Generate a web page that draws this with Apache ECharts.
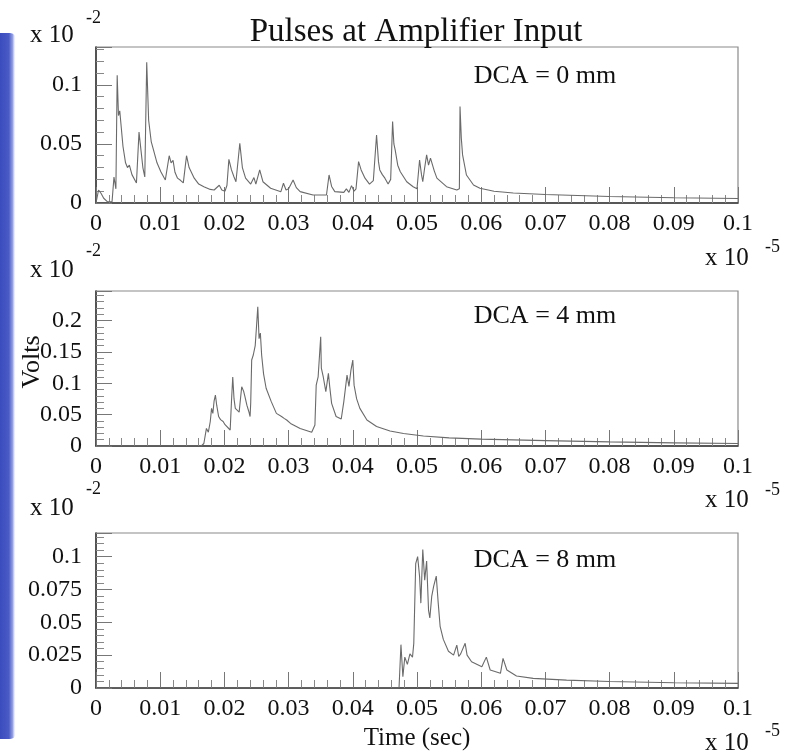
<!DOCTYPE html>
<html>
<head>
<meta charset="utf-8">
<script src="https://cdn.jsdelivr.net/npm/echarts@6/dist/echarts.min.js"></script>
<style>
html,body{margin:0;padding:0;background:#fff;}
#c{width:794px;height:756px;}
</style>
</head>
<body>
<div id="c"></div>
<script>
// ---- Data (time in units of 1e-5 s, voltage in units of 1e-2 V) ----
const xTickLabels = ['0','0.01','0.02','0.03','0.04','0.05','0.06','0.07','0.08','0.09','0.1'];
const yTickLabels0 = ['0','0.05','0.1'];
const yTickLabels4 = ['0','0.05','0.1','0.15','0.2'];
const yTickLabels8 = ['0','0.025','0.05','0.075','0.1'];
const panelLabels = ['DCA = 0 mm','DCA = 4 mm','DCA = 8 mm'];

const t0 = [0,0.0004,0.0008,0.0012,0.0018,0.0025,0.0028,0.0031,0.0033,0.0035,0.0037,0.0039,0.0042,0.0046,0.0049,0.0052,0.0056,0.0063,0.0067,0.0070,0.0073,0.0076,0.0079,0.0082,0.0086,0.0089,0.0095,0.0101,0.0108,0.0114,0.0117,0.0120,0.0123,0.0127,0.0132,0.0136,0.0141,0.0145,0.0153,0.0160,0.0168,0.0178,0.0184,0.0192,0.0196,0.0201,0.0204,0.0207,0.0211,0.0215,0.0218,0.0224,0.0228,0.0233,0.0241,0.0246,0.0249,0.0255,0.0260,0.0272,0.0288,0.0292,0.0296,0.0300,0.0307,0.0312,0.0318,0.0338,0.0359,0.0363,0.0367,0.0372,0.0386,0.0390,0.0394,0.0398,0.0402,0.0405,0.0409,0.0413,0.0419,0.0426,0.0432,0.0437,0.0440,0.0442,0.0446,0.0450,0.0455,0.0459,0.0462,0.0464,0.0466,0.0470,0.0474,0.0484,0.0494,0.0500,0.0504,0.0507,0.0509,0.0512,0.0515,0.0518,0.0521,0.0523,0.0527,0.0531,0.0546,0.0562,0.0566,0.0567,0.0569,0.0571,0.0577,0.0588,0.0598,0.0620,0.0650,0.0700,0.0800,0.0900,0.1000];
const v0 = [0,0.011,0.008,0.004,0.001,0.001,0.022,0.012,0.108,0.074,0.078,0.066,0.048,0.034,0.030,0.032,0.024,0.017,0.060,0.045,0.030,0.022,0.119,0.070,0.052,0.046,0.034,0.0265,0.0195,0.040,0.034,0.036,0.026,0.021,0.019,0.017,0.040,0.030,0.021,0.016,0.0138,0.0115,0.011,0.015,0.011,0.010,0.015,0.037,0.028,0.022,0.018,0.0505,0.030,0.021,0.016,0.0215,0.016,0.028,0.018,0.0125,0.0096,0.0167,0.011,0.012,0.0195,0.013,0.0096,0.0068,0.0068,0.0237,0.014,0.0096,0.009,0.012,0.009,0.0147,0.010,0.012,0.035,0.028,0.021,0.016,0.019,0.0576,0.035,0.028,0.024,0.021,0.016,0.020,0.069,0.050,0.045,0.032,0.0265,0.018,0.0138,0.012,0.0364,0.024,0.018,0.030,0.0407,0.032,0.038,0.037,0.027,0.021,0.0138,0.011,0.012,0.0816,0.055,0.0407,0.0237,0.0152,0.0125,0.010,0.0085,0.0072,0.0055,0.0045,0.0038];

const t4 = [0,0.0164,0.0168,0.0172,0.0175,0.0178,0.0180,0.0182,0.0184,0.0186,0.0188,0.0191,0.0194,0.0196,0.0198,0.0201,0.0204,0.0209,0.0211,0.0213,0.0215,0.0217,0.0219,0.0223,0.0225,0.0227,0.0230,0.0232,0.0235,0.0238,0.0240,0.0241,0.02425,0.0245,0.0248,0.0250,0.0252,0.0254,0.0256,0.0258,0.0261,0.0265,0.0273,0.0281,0.0289,0.0293,0.0297,0.0303,0.0318,0.0336,0.0341,0.0343,0.0346,0.0350,0.0351,0.0354,0.0358,0.0362,0.0364,0.0367,0.0374,0.0382,0.0386,0.0391,0.0394,0.0397,0.0400,0.0402,0.0406,0.0411,0.0422,0.0437,0.0458,0.0479,0.0510,0.0550,0.0600,0.0700,0.0800,0.0900,0.1000];
const v4 = [0,0,0.004,0.028,0.022,0.039,0.060,0.052,0.072,0.081,0.065,0.047,0.042,0.044,0.039,0.034,0.031,0.0255,0.0706,0.110,0.075,0.060,0.057,0.054,0.075,0.0945,0.087,0.0786,0.065,0.055,0.047,0.069,0.137,0.145,0.160,0.190,0.222,0.171,0.180,0.145,0.115,0.092,0.0707,0.052,0.047,0.044,0.0414,0.036,0.028,0.0218,0.0335,0.097,0.110,0.174,0.124,0.110,0.0866,0.1157,0.095,0.068,0.047,0.043,0.0707,0.113,0.095,0.120,0.137,0.097,0.075,0.060,0.0414,0.031,0.024,0.020,0.016,0.013,0.011,0.0085,0.0065,0.005,0.004];

const t8 = [0,0.0472,0.0475,0.0478,0.0481,0.0485,0.0489,0.0493,0.0495,0.0498,0.0501,0.0504,0.0506,0.0509,0.0512,0.0515,0.0518,0.0520,0.0523,0.0526,0.0530,0.0533,0.0536,0.0541,0.0549,0.0557,0.0562,0.0565,0.0568,0.0575,0.0578,0.0585,0.0601,0.0608,0.0614,0.0630,0.0634,0.0640,0.0655,0.0681,0.0733,0.0800,0.0900,0.1000];
const v8 = [0,0,0.033,0.0086,0.0235,0.018,0.026,0.0235,0.034,0.0947,0.100,0.085,0.0646,0.1055,0.082,0.0966,0.059,0.0534,0.070,0.0776,0.0852,0.065,0.047,0.037,0.028,0.025,0.0326,0.024,0.026,0.034,0.025,0.020,0.0162,0.0235,0.0137,0.0112,0.0225,0.0137,0.0091,0.0073,0.006,0.005,0.004,0.0035];

const zip = (t, v) => t.map((x, i) => [x, v[i]]);

const SERIF = 'Liberation Serif';
const chart = echarts.init(document.getElementById('c'), null, {renderer: 'canvas'});

const grids = [
  {left: 96, top: 47, width: 642, height: 156},
  {left: 96, top: 291, width: 642, height: 155},
  {left: 96, top: 533, width: 642, height: 155}
].map(g => Object.assign(g, {show: true, borderColor: '#8a8a8a', borderWidth: 1.2, backgroundColor: 'transparent'}));

function xAxis(i) {
  return {
    type: 'value', gridIndex: i, min: 0, max: 0.1, interval: 0.01,
    axisLine: {show: true, lineStyle: {color: '#333', width: 1.5}},
    axisTick: {show: true, inside: true, length: 16, lineStyle: {color: '#777', width: 1}},
    minorTick: {show: true, splitNumber: 5, length: 8, lineStyle: {color: '#888', width: 1}},
    splitLine: {show: false},
    axisLabel: {
      margin: 9, fontFamily: SERIF, fontSize: 24, color: '#111',
      formatter: v => { const k = Math.round(v / 0.01); return Math.abs(v - k * 0.01) < 1e-9 ? (xTickLabels[k] || '') : ''; }
    }
  };
}
function yAxis(i, max, step, labels) {
  return {
    type: 'value', gridIndex: i, min: 0, max: max, interval: step,
    axisLine: {show: true, lineStyle: {color: '#333', width: 1.5}},
    axisTick: {show: true, inside: true, length: 16, lineStyle: {color: '#777', width: 1}},
    minorTick: {show: true, splitNumber: 5, length: 8, lineStyle: {color: '#888', width: 1}},
    splitLine: {show: false},
    axisLabel: {
      margin: 14, fontFamily: SERIF, fontSize: 24, color: '#111', showMaxLabel: false,
      formatter: v => { const k = Math.round(v / step); return Math.abs(v - k * step) < 1e-9 ? (labels[k] || '') : ''; }
    }
  };
}

function line(i, t, v) {
  return {
    type: 'line', xAxisIndex: i, yAxisIndex: i, data: zip(t, v),
    showSymbol: false, symbol: 'none', smooth: false,
    lineStyle: {color: '#6a6a6a', width: 1.1}, silent: true
  };
}

function txt(x, y, s, size, opts) {
  return Object.assign({
    type: 'text', x: x, y: y, silent: true,
    style: Object.assign({text: s, fontFamily: SERIF, fontSize: size, fill: '#111', align: 'left', verticalAlign: 'middle'}, (opts && opts.style) || {})
  }, opts && opts.extra || {});
}

const graphics = [
  {type: 'rect', left: 0, top: 33, silent: true, z: -1,
   shape: {x: 0, y: 33, width: 16, height: 706, r: [0, 6, 6, 0]},
   style: {fill: new echarts.graphic.LinearGradient(0, 0, 1, 0, [
     {offset: 0, color: '#3a4bbd'}, {offset: 0.55, color: '#4a5bc5'}, {offset: 0.8, color: '#9aa4de'}, {offset: 1, color: 'rgba(255,255,255,0)'}
   ])}},
  txt(416, 32, 'Pulses at Amplifier Input', 33, {style: {align: 'center'}}),
  txt(545, 76, panelLabels[0], 26, {style: {align: 'center'}}),
  txt(545, 316, panelLabels[1], 26, {style: {align: 'center'}}),
  txt(545, 560, panelLabels[2], 26, {style: {align: 'center'}}),
  // left multipliers
  txt(30, 35, 'x 10', 25), txt(86, 18, '-2', 18),
  txt(30, 270, 'x 10', 25), txt(86, 251, '-2', 18),
  txt(30, 508, 'x 10', 25), txt(86, 489, '-2', 18),
  // right multipliers
  txt(705, 258, 'x 10', 25), txt(765, 247, '-5', 18),
  txt(705, 500, 'x 10', 25), txt(765, 490, '-5', 18),
  txt(705, 743, 'x 10', 25), txt(765, 731, '-5', 18),
  // axis titles
  txt(417, 738, 'Time (sec)', 25, {style: {align: 'center'}}),
  {type: 'text', x: 32, y: 362, rotation: Math.PI / 2, silent: true,
   style: {text: 'Volts', fontFamily: SERIF, fontSize: 26, fill: '#111', align: 'center', verticalAlign: 'middle'}}
];

chart.setOption({
  animation: false,
  backgroundColor: '#fff',
  grid: grids,
  xAxis: [xAxis(0), xAxis(1), xAxis(2)],
  yAxis: [
    yAxis(0, 0.132, 0.05, yTickLabels0),
    yAxis(1, 0.247, 0.05, yTickLabels4),
    yAxis(2, 0.118, 0.025, yTickLabels8)
  ],
  series: [line(0, t0, v0), line(1, t4, v4), line(2, t8, v8)],
  graphic: graphics
});
</script>
</body>
</html>
